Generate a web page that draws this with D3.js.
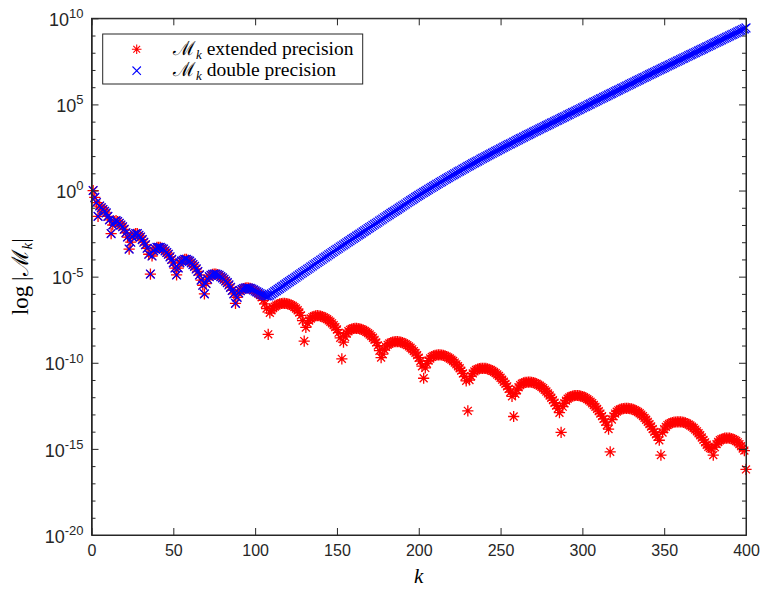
<!DOCTYPE html>
<html>
<head>
<meta charset="utf-8">
<script src="https://cdn.jsdelivr.net/npm/d3@7/dist/d3.min.js"></script>
<style>
  html, body { margin: 0; padding: 0; background: #fff; }
  svg { display: block; }
  .tick text { font-family: "Liberation Sans", Arial, sans-serif; font-size: 16px; fill: #262626; }
  .tick line, .domain { stroke: #262626; }
  .tex { font-family: "Liberation Serif", "DejaVu Serif", serif; fill: #000; }
</style>
</head>
<body>
<svg id="chart" width="762" height="592"></svg>
<script>
(function () {
  'use strict';

  // k runs from kStart, one point per integer k
  const kStart = 1;

  // log10 |M_k|, extended precision, k = 1..400 (one row per lobe)
  const extendedLog = [
    0, -0.4, -0.7, -1.5, -0.9, -1.0, -1.1, -1.2, -1.3, -1.5, -1.7, -2.5,
    -2.0, -1.8, -1.75, -1.8, -1.9, -2.0, -2.1, -2.25, -2.45, -2.7, -3.4,
    -3.0, -2.7, -2.55, -2.5, -2.5, -2.6, -2.7, -2.85, -3.0, -3.15, -3.35, -3.7, -4.85,
    -3.8, -3.5, -3.4, -3.3, -3.3, -3.3, -3.35, -3.4, -3.5, -3.6, -3.7, -3.85, -4.0, -4.2, -4.5, -4.9,
    -4.5, -4.2, -4.1, -4.05, -4.0, -4.0, -4.05, -4.1, -4.2, -4.3, -4.4, -4.55, -4.7, -4.9, -5.2, -5.5, -6.0,
    -5.4, -5.15, -5.0, -4.92, -4.87, -4.85, -4.85, -4.88, -4.92, -5.0, -5.07, -5.15, -5.25, -5.35, -5.48, -5.62, -5.8, -6.0, -6.55,
    -6.2, -5.95, -5.82, -5.74, -5.69, -5.66, -5.65, -5.66, -5.68, -5.72, -5.77, -5.83, -5.9, -5.98, -6.07, -6.2, -6.38, -6.58, -6.85, -8.35,
    -7.1, -6.95, -6.83, -6.74, -6.67, -6.62, -6.58, -6.56, -6.55, -6.55, -6.56, -6.58, -6.61, -6.65, -6.7, -6.77, -6.85, -6.95, -7.08, -7.25, -7.55, -8.74,
    -7.95, -7.7, -7.55, -7.43, -7.35, -7.3, -7.27, -7.26, -7.27, -7.29, -7.32, -7.36, -7.41, -7.47, -7.54, -7.62, -7.71, -7.81, -7.93, -8.07, -8.25, -8.55, -9.77,
    -8.8, -8.5, -8.3, -8.17, -8.09, -8.04, -8.01, -8.0, -8.0, -8.01, -8.03, -8.06, -8.1, -8.15, -8.21, -8.28, -8.36, -8.45, -8.55, -8.67, -8.82, -9.0, -9.3, -9.7,
    -9.5, -9.25, -9.08, -8.96, -8.88, -8.83, -8.8, -8.78, -8.77, -8.77, -8.78, -8.8, -8.83, -8.87, -8.92, -8.98, -9.05, -9.13, -9.22, -9.32, -9.43, -9.56, -9.71, -9.9, -10.2, -10.9,
    -10.3, -10.05, -9.87, -9.75, -9.66, -9.6, -9.57, -9.55, -9.54, -9.54, -9.55, -9.57, -9.6, -9.64, -9.69, -9.75, -9.82, -9.9, -9.99, -10.09, -10.2, -10.32, -10.46, -10.62, -10.8, -11.05, -12.79,
    -11.0, -10.78, -10.62, -10.5, -10.42, -10.37, -10.34, -10.33, -10.32, -10.32, -10.33, -10.35, -10.38, -10.42, -10.47, -10.53, -10.6, -10.68, -10.77, -10.87, -10.98, -11.1, -11.23, -11.37, -11.52, -11.7, -11.95, -13.12,
    -11.8, -11.58, -11.42, -11.3, -11.22, -11.17, -11.14, -11.13, -11.12, -11.12, -11.13, -11.15, -11.18, -11.22, -11.27, -11.33, -11.4, -11.48, -11.57, -11.67, -11.78, -11.9, -12.03, -12.17, -12.32, -12.48, -12.66, -12.9, -14.04,
    -12.55, -12.35, -12.2, -12.09, -12.01, -11.96, -11.93, -11.91, -11.9, -11.9, -11.91, -11.93, -11.96, -12.0, -12.05, -12.11, -12.18, -12.26, -12.35, -12.45, -12.56, -12.68, -12.81, -12.95, -13.1, -13.26, -13.43, -13.62, -13.85, -15.17,
    -13.3, -13.1, -12.95, -12.84, -12.76, -12.71, -12.68, -12.66, -12.65, -12.65, -12.65, -12.66, -12.68, -12.71, -12.75, -12.8, -12.86, -12.93, -13.01, -13.1, -13.2, -13.31, -13.43, -13.56, -13.7, -13.85, -14.01, -14.15, -14.3, -14.5, -15.36,
    -14.05, -13.85, -13.72, -13.62, -13.55, -13.5, -13.47, -13.45, -13.44, -13.43, -13.43, -13.43, -13.44, -13.46, -13.49, -13.53, -13.58, -13.64, -13.71, -13.79, -13.88, -13.98, -14.09, -14.21, -14.34, -14.48, -14.62, -14.76, -14.88, -14.95, -15.0, -15.36,
    -14.9, -14.72, -14.6, -14.5, -14.44, -14.4, -14.38, -14.37, -14.37, -14.38, -14.4, -14.43, -14.48, -14.54, -14.62, -14.72, -14.84, -14.98, -15.1, -16.19
  ];

  // double precision follows the extended curve up to k = 99, then its own values from k = 100
  const doubleSplitK = 100;
  const doubleTailLog = [
    -5.83, -5.88, -5.93, -5.98, -6.03, -6.07, -6.1, -6.12, -6.12, -6.07, -6.0,
    -5.94, -5.87, -5.81, -5.74, -5.68, -5.61, -5.55, -5.48, -5.42, -5.35,
    -5.29, -5.22, -5.16, -5.09, -5.03, -4.96, -4.9, -4.83, -4.77, -4.7,
    -4.64, -4.57, -4.51, -4.44, -4.38, -4.31, -4.25, -4.18, -4.12, -4.05,
    -3.99, -3.92, -3.86, -3.8, -3.73, -3.67, -3.6, -3.54, -3.47, -3.41,
    -3.35, -3.28, -3.22, -3.16, -3.1, -3.03, -2.97, -2.91, -2.84, -2.78,
    -2.72, -2.65, -2.59, -2.53, -2.47, -2.4, -2.34, -2.28, -2.21, -2.15,
    -2.09, -2.02, -1.96, -1.9, -1.84, -1.77, -1.71, -1.65, -1.58, -1.52,
    -1.46, -1.4, -1.33, -1.27, -1.21, -1.15, -1.09, -1.02, -0.96, -0.9,
    -0.84, -0.78, -0.71, -0.65, -0.59, -0.53, -0.47, -0.4, -0.34, -0.28,
    -0.22, -0.16, -0.11, -0.05, 0.01, 0.07, 0.13, 0.18, 0.24, 0.3,
    0.36, 0.41, 0.47, 0.52, 0.58, 0.64, 0.69, 0.75, 0.8, 0.86,
    0.91, 0.97, 1.02, 1.08, 1.13, 1.18, 1.24, 1.29, 1.35, 1.4,
    1.45, 1.5, 1.56, 1.61, 1.66, 1.71, 1.76, 1.82, 1.87, 1.92,
    1.97, 2.02, 2.07, 2.12, 2.17, 2.22, 2.27, 2.32, 2.37, 2.42,
    2.47, 2.52, 2.57, 2.62, 2.67, 2.71, 2.76, 2.81, 2.86, 2.91,
    2.96, 3.01, 3.05, 3.1, 3.15, 3.2, 3.25, 3.29, 3.34, 3.39,
    3.44, 3.48, 3.53, 3.58, 3.63, 3.67, 3.72, 3.77, 3.81, 3.86,
    3.91, 3.95, 4.0, 4.05, 4.09, 4.14, 4.19, 4.23, 4.28, 4.33,
    4.38, 4.42, 4.47, 4.52, 4.56, 4.61, 4.66, 4.7, 4.75, 4.8,
    4.85, 4.89, 4.94, 4.99, 5.03, 5.08, 5.13, 5.17, 5.22, 5.27,
    5.32, 5.36, 5.41, 5.46, 5.5, 5.55, 5.6, 5.64, 5.69, 5.74,
    5.79, 5.83, 5.88, 5.93, 5.97, 6.02, 6.07, 6.11, 6.16, 6.21,
    6.26, 6.3, 6.35, 6.4, 6.44, 6.49, 6.54, 6.58, 6.63, 6.68,
    6.73, 6.77, 6.82, 6.86, 6.91, 6.96, 7.0, 7.05, 7.09, 7.14,
    7.19, 7.23, 7.28, 7.32, 7.37, 7.42, 7.46, 7.51, 7.55, 7.6,
    7.65, 7.69, 7.74, 7.78, 7.83, 7.88, 7.92, 7.97, 8.01, 8.06,
    8.11, 8.15, 8.2, 8.24, 8.29, 8.34, 8.38, 8.43, 8.47, 8.52,
    8.57, 8.61, 8.66, 8.7, 8.75, 8.8, 8.84, 8.89, 8.93, 8.98,
    9.03, 9.07, 9.12, 9.16, 9.21, 9.26, 9.3, 9.35, 9.39, 9.44
  ];

  const xTicks = [0, 50, 100, 150, 200, 250, 300, 350, 400];
  const yLabelExps = [10, 5, 0, -5, -10, -15, -20];
  const yMinorExps = d3.range(-20, 11).filter(e => e % 5 !== 0);

  const seriesNames = ['extended precision', 'double precision'];
  const seriesColors = ['#ff0000', '#0000ff'];

  const svg = d3.select('#chart');

  const x = d3.scaleLinear().domain([0, 400]).range([91.5, 746]);
  const y = d3.scaleLog().domain([1e-20, 1e10]).range([535, 18.3]);
  const [x0, x1] = x.range();
  const [yb, yt] = y.range();

  const toPoints = (logs, offset) => logs.map((v, i) => ({k: i + offset, v: Math.pow(10, v)}));
  const extended = toPoints(extendedLog, kStart);
  const double = extended.filter(d => d.k < doubleSplitK)
    .concat(toPoints(doubleTailLog, doubleSplitK));

  // marker shapes, centred on 0,0
  const asterisk = r => {
    const d = r * 0.7071;
    return `M${-r},0H${r}M0,${-r}V${r}M${-d},${-d}L${d},${d}M${-d},${d}L${d},${-d}`;
  };
  const cross = s => `M${-s},${-s}L${s},${s}M${-s},${s}L${s},${-s}`;
  const markerPaths = [asterisk(5.6), cross(4.4)];
  const markerWidths = [1.3, 1.2];

  // axes background
  svg.append('rect')
    .attr('x', x0).attr('y', yt)
    .attr('width', x1 - x0).attr('height', yb - yt)
    .attr('fill', '#fff');

  // data markers: extended first, double on top
  [extended, double].forEach((pts, s) => {
    svg.append('g')
      .selectAll('path')
      .data(pts)
      .join('path')
      .attr('transform', d => `translate(${x(d.k)},${y(d.v)})`)
      .attr('d', markerPaths[s])
      .attr('fill', 'none')
      .attr('stroke', seriesColors[s])
      .attr('stroke-width', markerWidths[s]);
  });

  // x axes, ticks pointing inward
  svg.append('g')
    .attr('transform', `translate(0,${yb})`)
    .call(d3.axisBottom(x).tickValues(xTicks).tickSizeInner(-7).tickSizeOuter(0).tickPadding(10));
  svg.append('g')
    .attr('transform', `translate(0,${yt})`)
    .call(d3.axisTop(x).tickValues(xTicks).tickSizeInner(-7).tickSizeOuter(0).tickFormat(''));

  // y axes: long ticks where labelled, short ticks on the other decades
  const yMajor = yLabelExps.map(e => Math.pow(10, e));
  const yMinor = yMinorExps.map(e => Math.pow(10, e));
  const left = svg.append('g')
    .attr('transform', `translate(${x0},0)`)
    .call(d3.axisLeft(y).tickValues(yMajor).tickSizeInner(-7).tickSizeOuter(0).tickPadding(8)
      .tickFormat(() => ''));
  svg.append('g')
    .attr('transform', `translate(${x0},0)`)
    .call(d3.axisLeft(y).tickValues(yMinor).tickSizeInner(-4).tickSizeOuter(0).tickFormat(''));
  svg.append('g')
    .attr('transform', `translate(${x1},0)`)
    .call(d3.axisRight(y).tickValues(yMajor).tickSizeInner(-7).tickSizeOuter(0).tickFormat(''));
  svg.append('g')
    .attr('transform', `translate(${x1},0)`)
    .call(d3.axisRight(y).tickValues(yMinor).tickSizeInner(-4).tickSizeOuter(0).tickFormat(''));

  // 10^n labels with a raised exponent
  left.selectAll('.tick text')
    .attr('dy', '0.4em')
    .style('font-size', '18px')
    .each(function (d) {
      const t = d3.select(this);
      t.append('tspan').text('10');
      t.append('tspan')
        .attr('dy', '-0.6em')
        .attr('font-size', '13px')
        .text(Math.round(Math.log10(d)));
    });

  // box outline
  svg.append('rect')
    .attr('x', x0).attr('y', yt)
    .attr('width', x1 - x0).attr('height', yb - yt)
    .attr('fill', 'none')
    .attr('stroke', '#262626')
    .attr('stroke-width', 1);

  // axis titles
  svg.append('text')
    .attr('class', 'tex')
    .attr('x', (x0 + x1) / 2)
    .attr('y', 583)
    .attr('text-anchor', 'middle')
    .attr('font-size', '21px')
    .attr('font-style', 'italic')
    .text('k');

  const yTitle = svg.append('text')
    .attr('class', 'tex')
    .attr('transform', `translate(28,${(yb + yt) / 2}) rotate(-90)`)
    .attr('text-anchor', 'middle')
    .attr('font-size', '23px');
  yTitle.append('tspan').text('log\u2009|ℳ');
  yTitle.append('tspan').attr('font-size', '15px').attr('font-style', 'italic').attr('dy', '4').text('k');
  yTitle.append('tspan').attr('dy', '-4').text('|');

  // legend
  const legend = svg.append('g');
  legend.append('rect')
    .attr('x', 102.7).attr('y', 34)
    .attr('width', 260).attr('height', 50)
    .attr('fill', '#fff')
    .attr('stroke', '#262626')
    .attr('stroke-width', 1);

  seriesNames.forEach((name, s) => {
    const cy = 49.3 + s * 21.4;
    legend.append('path')
      .attr('transform', `translate(136.7,${cy})`)
      .attr('d', s === 0 ? asterisk(4.8) : cross(4.2))
      .attr('fill', 'none')
      .attr('stroke', seriesColors[s])
      .attr('stroke-width', 1.1);
    const label = legend.append('text')
      .attr('class', 'tex')
      .attr('x', 173)
      .attr('y', cy + 5.5)
      .attr('font-size', '19.5px');
    label.append('tspan').text('ℳ');
    label.append('tspan').attr('font-size', '13px').attr('font-style', 'italic').attr('dy', '4').text('k');
    label.append('tspan').attr('dy', '-4').text(' ' + name);
  });
})();
</script>
</body>
</html>
